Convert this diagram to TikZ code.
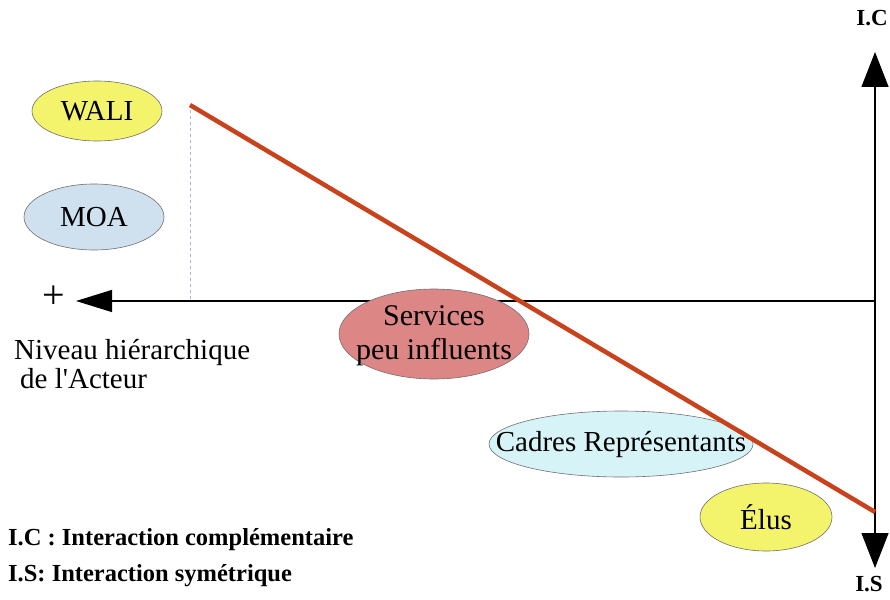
\documentclass[tikz,border=0pt]{standalone}
\usepackage{fontspec}
\setmainfont{Liberation Serif}
\usetikzlibrary{shapes.geometric,arrows.meta}
\definecolor{yel}{HTML}{F3F36C}
\definecolor{moablue}{HTML}{CFE0EF}
\definecolor{servred}{HTML}{DC8686}
\definecolor{cadcyan}{HTML}{D6F3F7}
\definecolor{redline}{HTML}{C8421C}
\definecolor{dashc}{HTML}{A8B8D2}
\definecolor{edge}{HTML}{707070}
\tikzset{
  actor/.style={ellipse, draw=edge, line width=0.6pt, inner sep=0pt},
  actortext/.style={inner sep=0pt, font=\fontsize{29}{34}\selectfont, align=center},
  axisline/.style={line width=1.3pt, black},
  bigtipv/.style={-{Triangle[length=35pt,width=27pt]}},
  bigtiph/.style={-{Triangle[length=36pt,width=22pt]}},
  lbl/.style={inner sep=0pt, anchor=west, font=\fontsize{29}{32}\selectfont},
  leg/.style={inner sep=0pt, anchor=west, font=\bfseries\fontsize{24.5}{28}\selectfont},
  axlbl/.style={inner sep=0pt, font=\bfseries\fontsize{23}{26}\selectfont},
}
\begin{document}
\begin{tikzpicture}[x=1pt,y=-1pt]
\useasboundingbox (0,0) rectangle (890,599);
% coordinates
\coordinate (vtop) at (875,52);
\coordinate (vbot) at (875,568);
\coordinate (vmid) at (875,300);
\coordinate (hright) at (875,301);
\coordinate (hleft) at (76,301);
\coordinate (dtop) at (190,110);
\coordinate (dbot) at (190,301);
\coordinate (rA) at (190,105);
\coordinate (rB) at (875,512);
% axes
\draw[axisline,bigtipv] (vmid) -- (vtop);
\draw[axisline,bigtipv] (vmid) -- (vbot);
\draw[axisline,bigtiph] (hright) -- (hleft);
\draw[dashc, dashed, line width=0.9pt] (dtop) -- (dbot);
% actors
\node[actor, fill=yel, minimum width=130pt, minimum height=60pt] (wali) at (97,111) {};
\node[actor, fill=moablue, minimum width=140pt, minimum height=66pt] (moa) at (94,217) {};
\node[actor, fill=servred, minimum width=190pt, minimum height=90pt] (serv) at (434,334) {};
\node[actor, fill=cadcyan, minimum width=264pt, minimum height=66pt] (cadres) at (621,444) {};
\node[actor, fill=yel, minimum width=132pt, minimum height=68pt] (elus) at (766,517) {};
% red line
\draw[redline, line width=4.5pt] (rA) -- (rB);
% actor texts
\node[actortext] (walit) at (wali.center) {WALI};
\node[actortext] (moat) at (moa.center) {MOA};
\node[actortext, font=\fontsize{30}{34}\selectfont] (servt) at ([yshift=-2pt]serv.center) {Services\\peu influents};
\node[actortext] (cadrest) at (cadres.center) {Cadres Représentants};
\node[actortext] (elust) at (elus.center) {Élus};
% labels
\node[axlbl] (ic) at (872,18) {I.C};
\node[axlbl] (is) at (869,584) {I.S};
\node[inner sep=0pt, font=\fontsize{40}{40}\selectfont] (plus) at (54,297) {+};
\node[lbl] (niv1) at (14,352) {Niveau hiérarchique};
\node[lbl] (niv2) at (20,379) {de l\textquotesingle Acteur};
\node[leg] (leg1) at (8,540) {I.C : Interaction complémentaire};
\node[leg] (leg2) at (8,576) {I.S: Interaction symétrique};
\end{tikzpicture}
\end{document}
